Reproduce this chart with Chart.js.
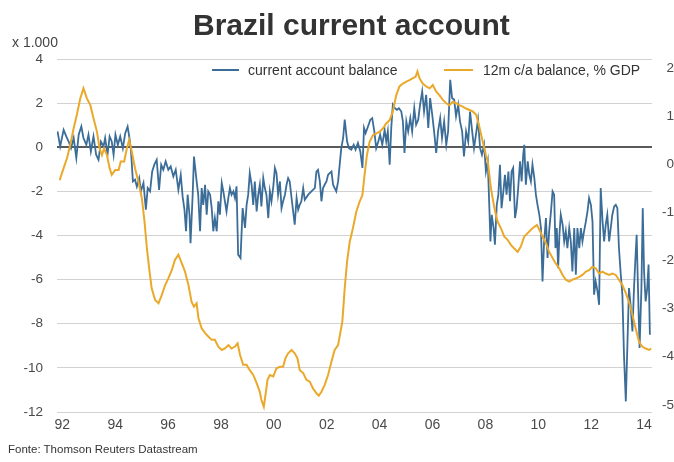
<!DOCTYPE html>
<html lang="en">
<head>
  <meta charset="UTF-8">
  <title>Brazil current account</title>
  <script src="https://cdn.jsdelivr.net/npm/chart.js"></script>
  <style>
    body {
      margin: 0;
      background: #fff;
      font-family: 'Liberation Sans', Arial, sans-serif;
      color: #333;
    }
    #wrap {
      position: relative;
      width: 674px;
      height: 462px;
      overflow: hidden;
    }
    canvas { display: block; }
    .title {
      position: absolute;
      left: 193px;
      top: 8px;
      font-size: 30px;
      line-height: 34px;
      font-weight: bold;
      color: #333;
      white-space: nowrap;
    }
    .unit {
      position: absolute;
      left: 12px;
      top: 34px;
      font-size: 14px;
      line-height: 16px;
      color: #444;
    }
    .legend {
      position: absolute;
      top: 62px;
      font-size: 14px;
      line-height: 16px;
      color: #333;
      white-space: nowrap;
    }
    .legend span.swatch {
      position: absolute;
      top: 7px;
      height: 2px;
    }
    .source {
      position: absolute;
      left: 8px;
      top: 442px;
      font-size: 11.5px;
      line-height: 14px;
      color: #333;
    }
  </style>
</head>
<body>
  <div id="wrap">
    <canvas id="chart" width="674" height="462"></canvas>
    <div class="title">Brazil current account</div>
    <div class="unit">x 1.000</div>
    <div class="legend" style="left:212px"><span class="swatch" id="sw1" style="left:0;width:27px"></span><span style="margin-left:36px">current account balance</span></div>
    <div class="legend" style="left:444px"><span class="swatch" id="sw2" style="left:0;width:29px"></span><span style="margin-left:39px">12m c/a balance, % GDP</span></div>
    <div class="source">Fonte: Thomson Reuters Datastream</div>
  </div>

  <script>
    // current account balance (US$ bn, monthly) - left axis
    const blueYears = [
      1991.82, 1991.92, 1992.05, 1992.15, 1992.24, 1992.33, 1992.43, 1992.53, 1992.62, 1992.72,
      1992.80, 1992.91, 1992.99, 1993.08, 1993.18, 1993.28, 1993.37, 1993.46, 1993.56, 1993.62,
      1993.71, 1993.79, 1993.87, 1993.94, 1994.01, 1994.10, 1994.19, 1994.29, 1994.38, 1994.47,
      1994.54, 1994.60, 1994.67, 1994.75, 1994.82, 1994.91, 1994.97, 1995.07, 1995.16, 1995.23,
      1995.32, 1995.40, 1995.48, 1995.57, 1995.66, 1995.74, 1995.82, 1995.91, 1996.01, 1996.10,
      1996.20, 1996.29, 1996.39, 1996.48, 1996.55, 1996.62, 1996.68, 1996.74, 1996.81, 1996.85,
      1996.93, 1996.98, 1997.08, 1997.14, 1997.21, 1997.27, 1997.33, 1997.40, 1997.46, 1997.52,
      1997.59, 1997.65, 1997.71, 1997.77, 1997.84, 1997.90, 1997.96, 1998.03, 1998.09, 1998.15,
      1998.21, 1998.28, 1998.34, 1998.40, 1998.47, 1998.53, 1998.59, 1998.65, 1998.74, 1998.82,
      1998.91, 1998.97, 1999.03, 1999.09, 1999.16, 1999.22, 1999.28, 1999.35, 1999.41, 1999.47,
      1999.53, 1999.60, 1999.66, 1999.72, 1999.79, 1999.85, 1999.91, 1999.98, 2000.04, 2000.10,
      2000.16, 2000.23, 2000.29, 2000.35, 2000.42, 2000.48, 2000.54, 2000.60, 2000.67, 2000.73,
      2000.79, 2000.86, 2000.92, 2000.98, 2001.04, 2001.11, 2001.17, 2001.30, 2001.42, 2001.55,
      2001.61, 2001.67, 2001.74, 2001.80, 2001.86, 2001.92, 2001.99, 2002.05, 2002.11, 2002.18,
      2002.24, 2002.30, 2002.36, 2002.43, 2002.49, 2002.55, 2002.62, 2002.68, 2002.77, 2002.84,
      2002.93, 2003.02, 2003.09, 2003.18, 2003.27, 2003.35, 2003.41, 2003.47, 2003.56, 2003.65,
      2003.72, 2003.80, 2003.87, 2003.95, 2004.02, 2004.10, 2004.19, 2004.25, 2004.31, 2004.38,
      2004.44, 2004.50, 2004.58, 2004.65, 2004.73, 2004.82, 2004.88, 2004.94, 2005.01, 2005.08,
      2005.16, 2005.23, 2005.31, 2005.38, 2005.46, 2005.53, 2005.61, 2005.68, 2005.76, 2005.84,
      2005.91, 2005.99, 2006.06, 2006.14, 2006.21, 2006.29, 2006.36, 2006.44, 2006.52, 2006.59,
      2006.67, 2006.74, 2006.82, 2006.89, 2006.97, 2007.04, 2007.12, 2007.19, 2007.27, 2007.35,
      2007.42, 2007.50, 2007.57, 2007.65, 2007.72, 2007.80, 2007.87, 2007.95, 2008.02, 2008.09,
      2008.15, 2008.19, 2008.24, 2008.31, 2008.36, 2008.43, 2008.49, 2008.55, 2008.61, 2008.68,
      2008.74, 2008.80, 2008.87, 2008.93, 2008.99, 2009.05, 2009.12, 2009.18, 2009.24, 2009.31,
      2009.37, 2009.43, 2009.47, 2009.53, 2009.60, 2009.66, 2009.72, 2009.78, 2009.85, 2009.91,
      2009.97, 2010.04, 2010.10, 2010.16, 2010.22, 2010.29, 2010.35, 2010.41, 2010.48, 2010.54,
      2010.60, 2010.65, 2010.70, 2010.75, 2010.80, 2010.85, 2010.92, 2010.98, 2011.04, 2011.10,
      2011.17, 2011.23, 2011.29, 2011.36, 2011.42, 2011.48, 2011.55, 2011.61, 2011.67, 2011.73,
      2011.80, 2011.86, 2011.92, 2011.99, 2012.05, 2012.11, 2012.17, 2012.24, 2012.30, 2012.36,
      2012.43, 2012.49, 2012.55, 2012.61, 2012.68, 2012.74, 2012.80, 2012.87, 2012.93, 2012.99,
      2013.05, 2013.12, 2013.18, 2013.24, 2013.31, 2013.37, 2013.43, 2013.49, 2013.56, 2013.62,
      2013.68, 2013.72, 2013.77, 2013.83, 2013.90, 2013.95, 2014.00, 2014.06, 2014.12, 2014.17,
      2014.22
    ];
    const blueValues = [
      0.72, 0.04, 0.79, 0.49, 0.26, -0.04, 0.42, -0.49, 0.57, 0.94,
      0.42, 0.11, 0.57, -0.19, 0.49, -0.34, -0.57, 0.26, 0.04, 0.42,
      -0.34, 0.49, 0.26, -0.34, 0.57, 0.11, 0.49, -0.04, 0.64, 0.94,
      0.42, -0.19, -1.55, -1.47, -1.78, -1.40, -2.00, -1.62, -2.83, -1.85,
      -2.00, -1.10, -0.79, -0.57, -1.93, -0.79, -1.02, -0.64, -1.02, -0.87,
      -1.32, -1.02, -1.93, -1.25, -2.23, -2.83, -3.81, -2.15, -3.06, -4.35,
      -2.15, -0.42, -1.55, -2.15, -3.81, -1.85, -2.61, -1.70, -3.06, -2.00,
      -2.15, -2.76, -3.81, -3.21, -3.81, -2.45, -3.06, -1.62, -2.00, -2.45,
      -2.91, -2.30, -1.85, -2.15, -2.00, -2.30, -1.77, -4.87, -5.02, -2.76,
      -3.66, -2.61, -2.15, -1.17, -1.70, -2.61, -1.55, -2.91, -2.15, -1.70,
      -2.68, -1.40, -1.85, -2.15, -3.21, -2.00, -2.45, -1.77, -0.94, -1.17,
      -2.15, -1.55, -2.76, -2.45, -2.15, -1.70, -1.40, -1.55, -2.30, -2.91,
      -3.51, -2.30, -2.83, -2.61, -2.45, -1.85, -2.38, -2.15, -2.00, -1.85,
      -1.10, -1.02, -1.55, -2.45, -1.85, -1.70, -1.55, -1.25, -1.17, -1.10,
      -1.70, -1.85, -2.00, -1.55, -0.79, -0.04, 0.42, 1.25, 0.26, -0.04,
      -0.11, 0.11, -0.11, 0.19, -0.19, -0.94, 0.87, 0.64, 0.94, 1.25,
      1.32, 0.72, -0.04, 0.26, 0.57, 0.11, 0.79, 0.26, 0.72, -0.79,
      0.87, 1.93, 1.77, 1.70, 1.77, 1.62, 1.17, -0.26, 1.17, 0.72,
      1.32, 0.72, 1.77, 1.02, 1.25, 1.93, 2.53, 1.62, 2.38, 0.87,
      2.23, 1.47, 0.72, -0.26, 0.72, 1.32, 0.42, 1.17, 0.11, 0.72,
      3.06, 2.23, 2.15, 1.40, 1.93, 1.17, 0.72, -0.42, 0.72, 0.26,
      1.62, 0.72, -0.04, 0.64, 1.25, -0.04, -0.34, 0.11, -1.10, -0.64,
      -2.76, -4.27, -3.06, -3.66, -4.42, -2.61, -2.15, -0.79, -2.76, -2.00,
      -1.25, -2.15, -1.10, -2.45, -1.10, -0.94, -3.21, -2.76, -1.85, -0.64,
      -1.55, -0.34, 0.11, -1.70, -0.64, -1.25, -1.55, -0.79, -1.40, -2.15,
      -2.61, -3.06, -3.66, -6.08, -4.27, -3.21, -5.02, -3.81, -2.91, -2.00,
      -2.15, -4.57, -3.66, -5.48, -3.97, -3.06, -3.51, -4.27, -3.81, -4.57,
      -3.66, -4.27, -5.63, -3.66, -5.78, -3.66, -4.57, -3.66, -4.27, -3.81,
      -3.36, -2.91, -2.30, -2.61, -3.36, -6.68, -6.08, -6.53, -7.14, -1.85,
      -3.36, -4.27, -3.51, -3.06, -4.27, -3.66, -3.06, -2.68, -2.61, -2.76,
      -4.57, -5.78, -6.68, -9.40, -11.52, -8.95, -6.38, -7.14, -8.35, -6.38,
      -4.87, -3.97, -6.38, -9.10, -6.38, -2.76, -5.63, -6.99, -6.38, -5.32,
      -8.50
    ];

    // 12m c/a balance, % GDP - right axis
    const orangeYears = [
      1991.90, 1992.05, 1992.18, 1992.30, 1992.43, 1992.55, 1992.68, 1992.80, 1992.93, 1993.06,
      1993.18, 1993.31, 1993.41, 1993.50, 1993.58, 1993.69, 1993.79, 1993.87, 1994.00, 1994.13,
      1994.21, 1994.34, 1994.44, 1994.53, 1994.63, 1994.75, 1994.88, 1995.01, 1995.11, 1995.20,
      1995.30, 1995.38, 1995.51, 1995.64, 1995.76, 1995.89, 1996.01, 1996.14, 1996.26, 1996.39,
      1996.52, 1996.64, 1996.77, 1996.89, 1996.98, 1997.08, 1997.15, 1997.27, 1997.40, 1997.52,
      1997.65, 1997.77, 1997.90, 1998.03, 1998.15, 1998.28, 1998.40, 1998.53, 1998.63, 1998.72,
      1998.84, 1998.97, 1999.09, 1999.22, 1999.35, 1999.47, 1999.53, 1999.62, 1999.70, 1999.76,
      1999.85, 1999.98, 2000.10, 2000.23, 2000.35, 2000.44, 2000.54, 2000.67, 2000.79, 2000.89,
      2000.98, 2001.11, 2001.23, 2001.36, 2001.48, 2001.61, 2001.70, 2001.80, 2001.92, 2002.05,
      2002.18, 2002.30, 2002.43, 2002.59, 2002.68, 2002.77, 2002.87, 2002.99, 2003.12, 2003.24,
      2003.35, 2003.43, 2003.52, 2003.62, 2003.75, 2003.87, 2004.00, 2004.13, 2004.25, 2004.38,
      2004.50, 2004.63, 2004.75, 2004.88, 2005.01, 2005.13, 2005.26, 2005.36, 2005.43, 2005.51,
      2005.63, 2005.76, 2005.89, 2006.01, 2006.14, 2006.26, 2006.39, 2006.52, 2006.64, 2006.77,
      2006.89, 2007.02, 2007.14, 2007.27, 2007.40, 2007.52, 2007.65, 2007.77, 2007.90, 2008.02,
      2008.09, 2008.21, 2008.34, 2008.46, 2008.59, 2008.71, 2008.84, 2008.97, 2009.09, 2009.22,
      2009.34, 2009.47, 2009.60, 2009.72, 2009.85, 2009.95, 2010.04, 2010.16, 2010.29, 2010.41,
      2010.54, 2010.66, 2010.79, 2010.92, 2011.04, 2011.17, 2011.29, 2011.42, 2011.55, 2011.67,
      2011.80, 2011.92, 2012.05, 2012.17, 2012.30, 2012.43, 2012.55, 2012.68, 2012.80, 2012.93,
      2013.05, 2013.18, 2013.31, 2013.43, 2013.56, 2013.68, 2013.81, 2013.93, 2014.06, 2014.19,
      2014.27
    ];
    const orangeValues = [
      -0.33, -0.08, 0.13, 0.40, 0.75, 1.03, 1.37, 1.58, 1.37, 1.23,
      0.96, 0.68, 0.33, 0.19, 0.33, 0.19, -0.08, -0.22, -0.12, -0.12,
      0.06, 0.06, 0.33, 0.51, 0.26, -0.08, -0.36, -0.71, -1.19, -1.75,
      -2.23, -2.58, -2.82, -2.89, -2.72, -2.51, -2.37, -2.20, -1.99, -1.88,
      -2.06, -2.23, -2.51, -2.86, -2.96, -2.89, -3.20, -3.41, -3.51, -3.58,
      -3.65, -3.65, -3.79, -3.86, -3.83, -3.76, -3.83, -3.79, -3.72, -3.96,
      -4.17, -4.17, -4.28, -4.38, -4.55, -4.73, -4.90, -5.04, -4.73, -4.48,
      -4.38, -4.41, -4.24, -4.21, -4.21, -4.03, -3.93, -3.86, -3.93, -4.03,
      -4.28, -4.34, -4.48, -4.52, -4.66, -4.76, -4.81, -4.73, -4.59, -4.38,
      -4.10, -3.86, -3.76, -3.27, -2.58, -2.02, -1.61, -1.33, -0.98, -0.78,
      -0.64, -0.22, 0.19, 0.47, 0.61, 0.64, 0.68, 0.75, 0.85, 0.92,
      1.10, 1.44, 1.62, 1.68, 1.72, 1.75, 1.79, 1.82, 1.93, 1.79,
      1.68, 1.62, 1.58, 1.65, 1.51, 1.44, 1.34, 1.27, 1.23, 1.30,
      1.27, 1.23, 1.20, 1.16, 1.13, 1.10, 1.03, 0.78, 0.47, 0.19,
      0.06, -0.50, -0.91, -1.19, -1.33, -1.50, -1.57, -1.68, -1.75, -1.82,
      -1.71, -1.50, -1.43, -1.36, -1.30, -1.26, -1.36, -1.50, -1.64, -1.82,
      -1.95, -2.06, -2.16, -2.30, -2.40, -2.44, -2.40, -2.37, -2.34, -2.30,
      -2.23, -2.20, -2.13, -2.16, -2.27, -2.23, -2.27, -2.30, -2.27, -2.30,
      -2.40, -2.51, -2.68, -2.86, -3.13, -3.41, -3.69, -3.79, -3.83, -3.86,
      -3.83
    ];

    const xTicks = [1992, 1994, 1996, 1998, 2000, 2002, 2004, 2006, 2008, 2010, 2012, 2014];
    const leftTicks = [4, 2, 0, -2, -4, -6, -8, -10, -12];
    const rightTicks = [2, 1, 0, -1, -2, -3, -4, -5];

    const BLUE = '#3b6d98';
    const ORANGE = '#eaa92b';
    const fontFamily = "'Liberation Sans', Arial, sans-serif";

    document.getElementById('sw1').style.background = BLUE;
    document.getElementById('sw2').style.background = ORANGE;

    const toPoints = (xs, ys) => xs.map((x, i) => ({ x: x, y: ys[i] }));

    new Chart(document.getElementById('chart'), {
      type: 'line',
      data: {
        datasets: [
          {
            label: 'current account balance',
            data: toPoints(blueYears, blueValues),
            borderColor: BLUE,
            backgroundColor: BLUE,
            borderWidth: 1.8,
            pointRadius: 0,
            tension: 0,
            yAxisID: 'y',
            order: 1
          },
          {
            label: '12m c/a balance, % GDP',
            data: toPoints(orangeYears, orangeValues),
            borderColor: ORANGE,
            backgroundColor: ORANGE,
            borderWidth: 2,
            pointRadius: 0,
            tension: 0,
            yAxisID: 'y1',
            order: 0
          }
        ]
      },
      options: {
        responsive: false,
        animation: false,
        devicePixelRatio: 1,
        layout: { padding: { top: 59, bottom: 30, left: 0, right: 0 } },
        plugins: {
          legend: { display: false },
          tooltip: { enabled: false }
        },
        scales: {
          x: {
            type: 'linear',
            min: 1991.8,
            max: 2014.3,
            afterBuildTicks: s => { s.ticks = xTicks.map(v => ({ value: v })); },
            afterFit: s => { s.height = 20; },
            grid: { display: false, drawTicks: false, tickLength: 0 },
            border: { display: false },
            ticks: {
              autoSkip: false,
              maxRotation: 0,
              padding: 5,
              color: '#4a4a4a',
              font: { family: fontFamily, size: 14 },
              callback: v => String(v % 100).padStart(2, '0')
            }
          },
          y: {
            position: 'left',
            min: -12,
            max: 4,
            afterBuildTicks: s => { s.ticks = leftTicks.map(v => ({ value: v })); },
            afterFit: s => { s.width = 57; },
            grid: {
              drawTicks: false,
              color: ctx => ctx.tick.value === 0 ? '#5a5a5a' : '#d2d2d2',
              lineWidth: ctx => ctx.tick.value === 0 ? 2 : 1
            },
            border: { display: false },
            ticks: { padding: 14, color: '#4a4a4a', font: { family: fontFamily, size: 13.5 } }
          },
          y1: {
            position: 'right',
            min: -5.15,
            max: 2.19,
            afterBuildTicks: s => { s.ticks = rightTicks.map(v => ({ value: v })); },
            afterFit: s => { s.width = 22; },
            grid: { display: false, drawTicks: false },
            border: { display: false },
            ticks: { crossAlign: 'far', padding: 0, color: '#4a4a4a', font: { family: fontFamily, size: 13.5 } }
          }
        }
      }
    });
  </script>
</body>
</html>
